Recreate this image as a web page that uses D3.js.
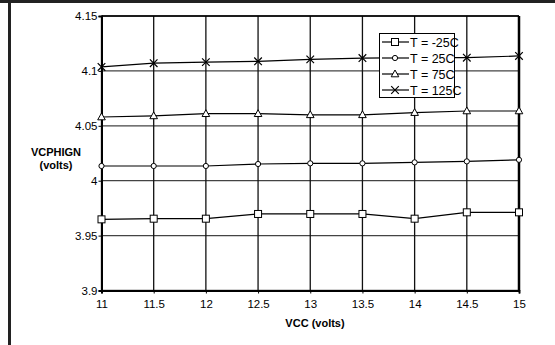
<!DOCTYPE html>
<html><head><meta charset="utf-8">
<script src="https://cdn.jsdelivr.net/npm/d3@7"></script>
<style>body{margin:0;background:#fff}svg{display:block;font-family:"Liberation Sans",Arial,sans-serif}</style>
</head><body>
<script>
const vcc = [11, 11.5, 12, 12.5, 13, 13.5, 14, 14.5, 15];
const tM25 = [3.9648, 3.9654, 3.9654, 3.9697, 3.9697, 3.9697, 3.9654, 3.9712, 3.9712];
const t25 = [4.0134, 4.0134, 4.0134, 4.0152, 4.0158, 4.0158, 4.0167, 4.0176, 4.019];
const t75 = [4.058, 4.059, 4.061, 4.061, 4.060, 4.060, 4.062, 4.0635, 4.0635];
const t125 = [4.1036, 4.107, 4.108, 4.1087, 4.1105, 4.1117, 4.112, 4.112, 4.1136];
const seriesNames = ["T = -25C", "T = 25C", "T = 75C", "T = 125C"];
const seriesMarkers = ["square", "circle", "triangle", "x"];
const yTicks = [3.9, 3.95, 4, 4.05, 4.1, 4.15];
const xTicks = [11, 11.5, 12, 12.5, 13, 13.5, 14, 14.5, 15];
const seriesValues = [tM25, t25, t75, t125];

const W = 555, H = 345;
const svg = d3.select("body").append("svg").attr("width", W).attr("height", H);
svg.append("rect").attr("width", W).attr("height", H).attr("fill", "#fff");
// frame
svg.append("rect").attr("x", 0).attr("y", 0).attr("width", W).attr("height", 3).attr("fill", "#222");
svg.append("rect").attr("x", 8).attr("y", 0).attr("width", 3).attr("height", H).attr("fill", "#222");

const x = d3.scaleLinear().domain([11, 15]).range([101.5, 519]);
const y = d3.scaleLinear().domain([3.9, 4.15]).range([290.5, 16]);

// grid
const g = svg.append("g");
g.selectAll(".hg").data(yTicks).join("line")
  .attr("x1", x(11)).attr("x2", x(15))
  .attr("y1", d => y(d)).attr("y2", d => y(d))
  .attr("stroke", "#444").attr("stroke-width", 1.3);
g.selectAll(".vg").data(xTicks).join("line")
  .attr("x1", d => x(d)).attr("x2", d => x(d))
  .attr("y1", y(3.9)).attr("y2", y(4.15))
  .attr("stroke", "#111").attr("stroke-width", 1.3);

// axes
const yAxis = svg.append("g").attr("transform", `translate(${x(11)},0)`)
  .call(d3.axisLeft(y).tickValues(yTicks).tickFormat(d3.format("")).tickSize(3).tickPadding(1));
yAxis.select(".domain").attr("stroke", "#000").attr("stroke-width", 2);
yAxis.selectAll("text").attr("font-size", 11.5).attr("fill", "#000");
const xAxis = svg.append("g").attr("transform", `translate(0,${y(3.9)})`)
  .call(d3.axisBottom(x).tickValues(xTicks).tickFormat(d3.format("")).tickSize(3).tickPadding(6));
xAxis.select(".domain").attr("stroke", "#000").attr("stroke-width", 2);
xAxis.selectAll("text").attr("font-size", 11.5).attr("fill", "#000");
svg.append("line").attr("x1", x(15)).attr("x2", x(15)).attr("y1", y(4.15)).attr("y2", y(3.9))
  .attr("stroke", "#000").attr("stroke-width", 2.5);
svg.append("line").attr("x1", x(11)).attr("x2", x(15)).attr("y1", y(4.15)).attr("y2", y(4.15))
  .attr("stroke", "#000").attr("stroke-width", 1.3);

// titles
svg.append("text").attr("x", 315).attr("y", 327).attr("text-anchor", "middle")
  .attr("font-size", 11).attr("font-weight", "bold").text("VCC (volts)");
svg.append("text").attr("x", 56).attr("y", 156).attr("text-anchor", "middle")
  .attr("font-size", 11).attr("font-weight", "bold").text("VCPHIGN");
svg.append("text").attr("x", 56).attr("y", 169).attr("text-anchor", "middle")
  .attr("font-size", 11).attr("font-weight", "bold").text("(volts)");

function drawMarker(sel, type) {
  if (type === "square") {
    sel.append("rect").attr("x", -3.5).attr("y", -3.5).attr("width", 7).attr("height", 7)
      .attr("fill", "#fff").attr("stroke", "#000").attr("stroke-width", 1);
  } else if (type === "circle") {
    sel.append("circle").attr("r", 2.6).attr("fill", "#fff").attr("stroke", "#000").attr("stroke-width", 1);
  } else if (type === "triangle") {
    sel.append("path").attr("d", "M0,-4L3.8,2.8L-3.8,2.8Z").attr("fill", "#fff").attr("stroke", "#000").attr("stroke-width", 1);
  } else {
    sel.append("path").attr("d", "M-3.8,-3.8L3.8,3.8M-3.8,3.8L3.8,-3.8").attr("fill", "none").attr("stroke", "#000").attr("stroke-width", 1.2);
  }
}

const line = d3.line().x((d, i) => x(vcc[i])).y(d => y(d));
seriesValues.forEach((vals, si) => {
  svg.append("path").attr("d", line(vals)).attr("fill", "none").attr("stroke", "#000").attr("stroke-width", 1.2);
  vals.forEach((v, i) => {
    const m = svg.append("g").attr("transform", `translate(${x(vcc[i])},${y(v)})`);
    drawMarker(m, seriesMarkers[si]);
  });
});

// legend
const lg = svg.append("g");
lg.append("rect").attr("x", 379.5).attr("y", 33.5).attr("width", 75).attr("height", 64)
  .attr("fill", "#fff").attr("stroke", "#000").attr("stroke-width", 1);
seriesNames.forEach((name, i) => {
  const cy = 42 + i * 16;
  lg.append("line").attr("x1", 382).attr("x2", 409).attr("y1", cy).attr("y2", cy).attr("stroke", "#000").attr("stroke-width", 1.2);
  const m = lg.append("g").attr("transform", `translate(395,${cy})`);
  drawMarker(m, seriesMarkers[i]);
  lg.append("text").attr("x", 410).attr("y", cy + 5).attr("font-size", 12.5).text(name);
});
</script>
</body></html>
